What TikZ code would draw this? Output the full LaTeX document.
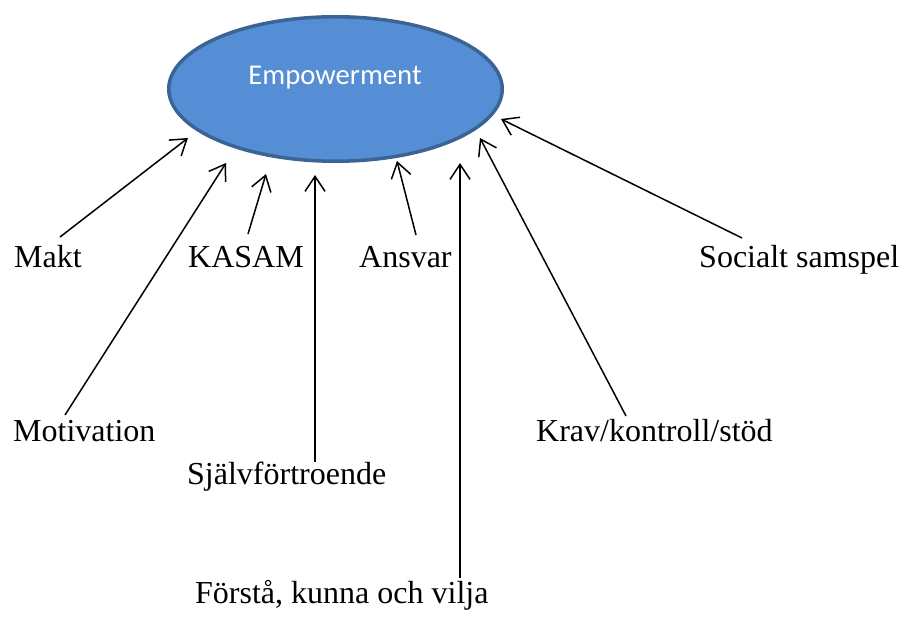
\documentclass[tikz,border=0pt]{standalone}
\usepackage{fontspec}
\setmainfont{Liberation Serif}
\newfontfamily\calib{Carlito}
\usetikzlibrary{arrows.meta,shapes.geometric}
\definecolor{ellfill}{HTML}{558ED5}
\definecolor{elldraw}{HTML}{3B6394}
\tikzset{
  lbl/.style={anchor=base west,inner sep=0pt,font=\fontsize{32}{38}\selectfont},
  arr/.style={line width=1.5pt,-{Straight Barb[length=15pt,width=20pt,line width=1.5pt]}}
}
\begin{document}
\begin{tikzpicture}[x=1pt,y=-1pt]
\useasboundingbox (0,0) rectangle (920,617);
\node[ellipse,draw=elldraw,fill=ellfill,line width=3.5pt,inner sep=0pt,
      minimum width=333.5pt,minimum height=144.5pt] (emp) at (335.5,89) {};
\node[anchor=base,inner sep=0pt,text=white,font=\calib\fontsize{28.7}{34}\selectfont] (emptext) at (335,85) {Empowerment};

\node[lbl] (makt) at (14,268) {Makt};
\node[lbl] (kasam) at (188,268) {KASAM};
\node[lbl] (ansvar) at (359,268) {Ansvar};
\node[lbl] (social) at (699,268) {Socialt samspel};
\node[lbl] (motiv) at (13,441) {Motivation};
\node[lbl] (krav) at (536,441) {Krav/kontroll/stöd};
\node[lbl] (sjalv) at (187,484) {Självförtroende};
\node[lbl] (forsta) at (195,603) {Förstå, kunna och vilja};

\coordinate (maktT) at (60,237);   \coordinate (maktH) at (188,138);
\coordinate (motivT) at (65,415);  \coordinate (motivH) at (226,163);
\coordinate (kasamT) at (248,234); \coordinate (kasamH) at (266,174);
\coordinate (sjalvT) at (315,462); \coordinate (sjalvH) at (315,175);
\coordinate (ansvarT) at (416,235);\coordinate (ansvarH) at (397,161);
\coordinate (forstaT) at (460,578);\coordinate (forstaH) at (460,163);
\coordinate (kravT) at (626,416);  \coordinate (kravH) at (480,138);
\coordinate (socialT) at (742,238);\coordinate (socialH) at (501,119);

\draw[arr] (maktT) -- (maktH);
\draw[arr] (motivT) -- (motivH);
\draw[arr] (kasamT) -- (kasamH);
\draw[arr] (sjalvT) -- (sjalvH);
\draw[arr] (ansvarT) -- (ansvarH);
\draw[arr] (forstaT) -- (forstaH);
\draw[arr] (kravT) -- (kravH);
\draw[arr] (socialT) -- (socialH);
\end{tikzpicture}
\end{document}
